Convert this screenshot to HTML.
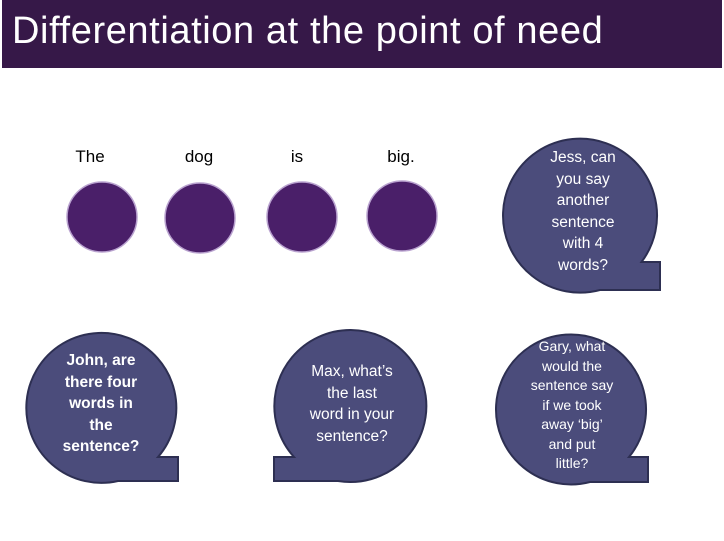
<!DOCTYPE html>
<html><head><meta charset="utf-8"><style>
html,body{margin:0;padding:0;background:#fff;}
body{width:724px;height:541px;position:relative;overflow:hidden;font-family:"Liberation Sans",sans-serif;}
.hdr{position:absolute;left:2px;top:0;width:720px;height:68px;background:#361848;}
.hdr span{position:absolute;left:10px;top:10px;color:#fff;font-size:38px;letter-spacing:0.6px;}
.t{position:absolute;color:#fff;font-size:15.5px;line-height:21.5px;text-align:center;}
.w{position:absolute;font-size:17px;color:#000;top:147px;transform:translateX(-50%);}
</style></head><body>
<div class="hdr"><span>Differentiation at the point of need</span></div>
<div class="w" style="left:90px">The</div>
<div class="w" style="left:199px">dog</div>
<div class="w" style="left:297px">is</div>
<div class="w" style="left:401px">big.</div>
<svg width="724" height="541" style="position:absolute;left:0;top:0">
<g fill="#4a1f69" stroke="#b9a2cf" stroke-width="1.5">
<circle cx="102" cy="217" r="35"/><circle cx="200" cy="218" r="35"/>
<circle cx="302" cy="217" r="35"/><circle cx="402" cy="216" r="35"/>
</g>
<g fill="#4b4c7b" stroke="#2d2f52" stroke-width="2">
<path d="M641.5 262 L660 262 L660 290 L600 290 A77 77 0 1 1 641.5 262 Z"/>
<path d="M158 457 L178 457 L178 481 L118 481 A75 75 0 1 1 158 457 Z"/>
<path d="M294 457 L274 457 L274 481 L338 481 A76 76 0 1 0 294 457 Z"/>
<path d="M629 457 L648 457 L648 482 L590 482 A75 75 0 1 1 629 457 Z"/>
</g>
</svg>
<div class="t" style="left:523px;top:147px;width:120px">Jess, can<br>you say<br>another<br>sentence<br>with 4<br>words?</div>
<div class="t" style="left:41px;top:350px;width:120px;font-weight:bold">John, are<br>there four<br>words in<br>the<br>sentence?</div>
<div class="t" style="left:292px;top:361px;width:120px">Max, what’s<br>the last<br>word in your<br>sentence?</div>
<div class="t" style="left:507px;top:337px;width:130px;font-size:14px;line-height:19.5px">Gary, what<br>would the<br>sentence say<br>if we took<br>away ‘big’<br>and put<br>little?</div>
</body></html>
